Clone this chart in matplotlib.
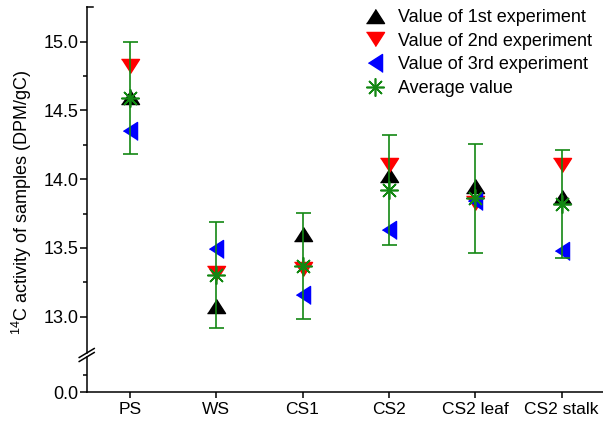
import matplotlib
matplotlib.use("Agg")
import matplotlib.pyplot as plt
from matplotlib.lines import Line2D
from matplotlib.ticker import FixedLocator
import numpy as np

plt.rcParams['font.family'] = ['Liberation Sans', 'DejaVu Sans']

categories = ["PS", "WS", "CS1", "CS2", "CS2 leaf", "CS2 stalk"]
exp1 = [14.60, 13.08, 13.60, 14.03, 13.95, 13.87]
exp2 = [14.82, 13.32, 13.35, 14.10, 13.83, 14.10]
exp3 = [14.35, 13.49, 13.16, 13.63, 13.84, 13.48]
avg = [14.59, 13.30, 13.37, 13.92, 13.86, 13.82]
err = [0.41, 0.385, 0.385, 0.40, 0.395, 0.395]

W, H = 603, 423
fig = plt.figure(figsize=(W / 100, H / 100), dpi=100)

def fx(px):
    return px / W

def fy(py):
    return 1 - py / H

left_px, right_px = 86.7, 603
top_px, brk_top_px, brk_bot_px, bot_px = 7.3, 353, 357, 392
scale = 137.5  # px per unit

ax_t = fig.add_axes([fx(left_px), fy(brk_top_px), fx(right_px - left_px), (brk_top_px - top_px) / H])
ax_b = fig.add_axes([fx(left_px), fy(bot_px), fx(right_px - left_px), (bot_px - brk_bot_px) / H])

x = np.arange(1, len(categories) + 1)

up_tri = [(-1, -0.78), (1, -0.78), (0, 0.78)]
down_tri = [(-1, 0.78), (1, 0.78), (0, -0.78)]
left_tri = [(0.78, -1), (0.78, 1), (-0.78, 0)]
green = '#138813'

for ax in (ax_t, ax_b):
    ax.plot(x, exp1, linestyle='none', marker=up_tri, markersize=13, color='black', label='Value of 1st experiment')
    ax.plot(x, exp2, linestyle='none', marker=down_tri, markersize=13, color='#ff0000', label='Value of 2nd experiment')
    ax.plot(x, exp3, linestyle='none', marker=left_tri, markersize=13, color='#0000ff', label='Value of 3rd experiment')
    ax.errorbar(x, avg, yerr=err, fmt='none', ecolor=green, elinewidth=1.2, capsize=5.4, capthick=1.2)
    ax.plot(x, avg, linestyle='none', marker=(8, 2, 0), markersize=13, markeredgewidth=1.2,
            color=green, label='Average value')
    ax.set_xlim(0.5, 6.48)
    ax.spines['right'].set_visible(False)
    ax.spines['top'].set_visible(False)
    for s in ax.spines.values():
        s.set_linewidth(1.1)

ax_t.set_ylim(15.25 - (brk_top_px - top_px) / scale, 15.25)
ax_b.set_ylim(0, (bot_px - brk_bot_px) / scale)

ax_t.spines['bottom'].set_visible(False)
ax_t.tick_params(axis='x', which='both', bottom=False, labelbottom=False)
ax_t.yaxis.set_major_locator(FixedLocator([13.0, 13.5, 14.0, 14.5, 15.0]))
ax_t.yaxis.set_minor_locator(FixedLocator([13.25, 13.75, 14.25, 14.75]))
ax_t.set_yticklabels(["13.0", "13.5", "14.0", "14.5", "15.0"])

ax_b.yaxis.set_major_locator(FixedLocator([0.0]))
ax_b.yaxis.set_minor_locator(FixedLocator([0.125]))
ax_b.set_yticklabels(["0.0"])
ax_b.set_xticks(x)
ax_b.set_xticklabels(categories)

for ax in (ax_t, ax_b):
    ax.tick_params(axis='y', which='major', direction='out', length=5, width=1.1,
                   labelsize=13, pad=1)
    ax.tick_params(axis='y', which='minor', direction='out', length=3, width=1.1)
ax_b.tick_params(axis='x', which='major', direction='out', length=4, width=1.1,
                 labelsize=12.5, pad=3)

# small stub at top of the y axis
ax_t.plot([0, 0.012], [1, 1], transform=ax_t.transAxes, color='black', lw=1.1, clip_on=False)

# break marks
for py in (brk_top_px, brk_bot_px):
    fig.add_artist(Line2D([fx(left_px - 7.5), fx(left_px + 7.5)], [fy(py + 4.5), fy(py - 4.5)],
                          transform=fig.transFigure, color='black', lw=1.1))

fig.text(fx(22), fy(202), r'$^{\mathregular{14}}$C activity of samples (DPM/gC)',
         rotation=90, ha='center', va='center', fontsize=13)

handles, labels = ax_t.get_legend_handles_labels()
fig.legend(handles, labels, loc='upper left', bbox_to_anchor=(fx(364), fy(9)),
           frameon=False, fontsize=13, handlelength=1.2, handletextpad=0.7,
           borderpad=0, borderaxespad=0, labelspacing=0.37)

fig.savefig('out.png', dpi=100)
